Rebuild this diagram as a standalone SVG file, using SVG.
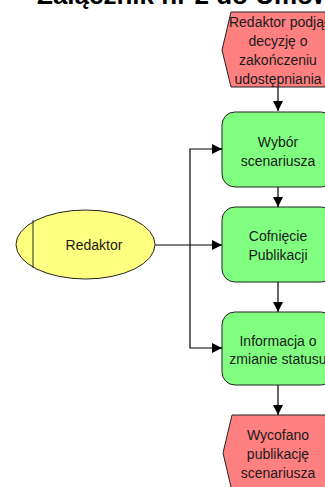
<svg xmlns="http://www.w3.org/2000/svg" width="325" height="487" viewBox="0 0 325 487">
<defs>
<marker id="arr" viewBox="0 0 10 10" refX="10" refY="5" markerWidth="10" markerHeight="10" markerUnits="userSpaceOnUse" orient="auto">
<path d="M0,0 L10,5 L0,10 Z" fill="#000"/>
</marker>
<style>
.t{font-family:"Liberation Sans",Arial,sans-serif;font-size:14px;fill:#1a1a1a;text-anchor:middle}
.ev{fill:#FF8080;stroke:#222;stroke-width:1}
.fn{fill:#80FF80;stroke:#222;stroke-width:1}
.c{fill:none;stroke:#000;stroke-width:1.2}
</style>
</defs>
<rect width="325" height="487" fill="#fff"/>
<text x="37" y="4" style="font-family:'Liberation Sans',Arial,sans-serif;font-size:26px;font-weight:bold;fill:#000">Załącznik nr 2 do Umowy</text>
<g id="connectors">
<line class="c" x1="278" y1="87" x2="278" y2="111" marker-end="url(#arr)"/>
<line class="c" x1="278" y1="187" x2="278" y2="207" marker-end="url(#arr)"/>
<line class="c" x1="278" y1="282" x2="278" y2="312" marker-end="url(#arr)"/>
<line class="c" x1="278" y1="385" x2="278" y2="415" marker-end="url(#arr)"/>
<line class="c" x1="155" y1="245" x2="222" y2="245" marker-end="url(#arr)"/>
<polyline class="c" points="222,149 190,149 190,348 222,348"/>
<line class="c" x1="212" y1="149" x2="222" y2="149" marker-end="url(#arr)"/>
<line class="c" x1="212" y1="348" x2="222" y2="348" marker-end="url(#arr)"/>
</g>
<g id="ev-start">
<polygon class="ev" points="231,12 325,12 334,50 325,87 231,87 222,50"/>
<text class="t" x="278" y="27">Redaktor podjął</text>
<text class="t" x="278" y="46">decyzję o</text>
<text class="t" x="278" y="65">zakończeniu</text>
<text class="t" x="278" y="84">udostępniania</text>
</g>
<g id="fn-wybor">
<rect class="fn" x="222" y="112" width="112" height="75" rx="13"/>
<text class="t" x="278" y="147">Wybór</text>
<text class="t" x="278" y="166">scenariusza</text>
</g>
<g id="fn-cofniecie">
<rect class="fn" x="222" y="207" width="112" height="75" rx="13"/>
<text class="t" x="278" y="241">Cofnięcie</text>
<text class="t" x="278" y="260">Publikacji</text>
</g>
<g id="fn-informacja">
<rect class="fn" x="222" y="312" width="112" height="73" rx="13"/>
<text class="t" x="278" y="346">Informacja o</text>
<text class="t" x="278" y="364">zmianie statusu</text>
</g>
<g id="ev-end">
<polygon class="ev" points="232,415 325,415 334,453 325,491 232,491 223,453"/>
<text class="t" x="278" y="440">Wycofano</text>
<text class="t" x="278" y="459">publikację</text>
<text class="t" x="278" y="478">scenariusza</text>
</g>
<g id="redaktor">
<ellipse cx="85.5" cy="244.5" rx="69.5" ry="34.5" fill="#FFFF80" stroke="#222" stroke-width="1"/>
<line x1="33" y1="220" x2="33" y2="268" stroke="#222" stroke-width="1"/>
<text class="t" x="94" y="250">Redaktor</text>
</g>
</svg>
